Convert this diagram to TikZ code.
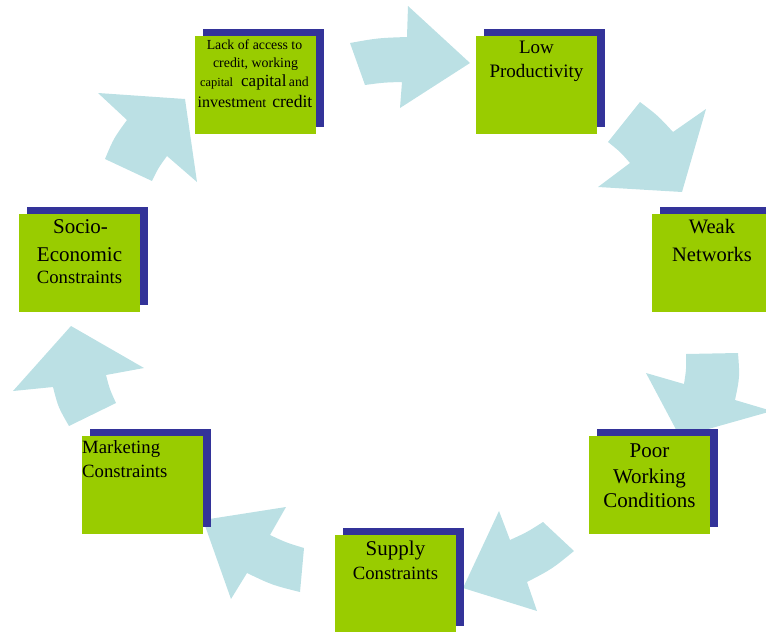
\documentclass[tikz,border=0pt]{standalone}
\usepackage{fontspec}
\setmainfont{Liberation Serif}
\usetikzlibrary{shadows}
\definecolor{boxgreen}{RGB}{153,204,0}
\definecolor{shadowblue}{RGB}{51,51,153}
\definecolor{arrowblue}{RGB}{187,224,228}
\newcommand{\fs}[1]{\fontsize{#1}{#1}\selectfont}
\begin{document}
\begin{tikzpicture}[x=1pt,y=-1pt,
  box/.style={rectangle, fill=boxgreen, minimum width=121pt, minimum height=98pt,
    inner sep=0pt, anchor=north west,
    general shadow={fill=shadowblue, shadow xshift=8pt, shadow yshift=7pt}},
  lbl/.style={anchor=base, inner sep=0pt, text=black},
  lblw/.style={anchor=base west, inner sep=0pt, text=black},
  cyc/.style={fill=arrowblue, draw=none}]
\useasboundingbox (0,0) rectangle (766,632);

% ---- curved block arrows ----
\fill[cyc] (350,43) .. controls (378,38) .. (407,37) -- (408,6) -- (470,63)
  -- (400,108) -- (402,82) .. controls (383.5,82.5) .. (365,85) -- cycle;
\fill[cyc] (640,102) .. controls (658.1,115.8) .. (673,132) -- (706,109) -- (682,192)
  -- (598,187) -- (630,163) .. controls (620.1,151.7) .. (608,142) -- cycle;
\fill[cyc] (686,354) -- (738,353) .. controls (739.8,377) .. (735,400) -- (772,411)
  -- (680,437) -- (646,373) -- (684,384) .. controls (686.3,369.2) .. (686,354) -- cycle;
\fill[cyc] (463,588) -- (499,511) -- (510,540) .. controls (527.2,532.1) .. (543,522)
  -- (574,551) .. controls (552,569) .. (527,582) -- (537,611) -- cycle;
\fill[cyc] (203,520) -- (286,507) -- (270,535) .. controls (286.4,542.7) .. (304,548)
  -- (300,592) .. controls (272.3,585.1) .. (247,573) -- (231,599) -- cycle;
\fill[cyc] (71,326) -- (144,368) -- (106,375) .. controls (109.7,389.3) .. (116,403)
  -- (69,426) .. controls (58.2,407.2) .. (53,387) -- (13,391) -- cycle;
\fill[cyc] (185,99) -- (197,182) -- (167,156) .. controls (158.4,167.8) .. (152,181)
  -- (105,159) .. controls (113.8,138.1) .. (127,120) -- (98,93) -- cycle;

% ---- boxes ----
\node[box] (b1) at (195,36) {};
\node[box] (b2) at (476,36) {};
\node[box] (b3) at (652,214) {};
\node[box] (b4) at (589,436) {};
\node[box] (b5) at (335,535) {};
\node[box] (b6) at (82,436) {};
\node[box] (b7) at (19,214) {};

% ---- texts ----
\node[lbl] (t1a) at (254.5,49) {\fs{13.8}Lack of access to};
\node[lbl] (t1b) at (255.5,67) {\fs{13.9}credit, working};
\node[lbl] (t1c) at (254.5,86) {{\fs{12.4}capital}\hspace{8pt}{\fs{17}capital}\hspace{2.5pt}{\fs{13.8}and}};
\node[lbl] (t1d) at (255,107) {{\fs{16}investme}{\fs{14}nt}\hspace{6pt}{\fs{17.6}credit}};

\node[lbl] (t2a) at (536.5,53) {\fs{19}Low};
\node[lbl] (t2b) at (536.5,77) {\fs{19}Productivity};

\node[lbl] (t3a) at (712,233) {\fs{20.5}Weak};
\node[lbl] (t3b) at (712,261) {\fs{20.5}Networks};

\node[lbl] (t4a) at (649.5,457) {\fs{21}Poor};
\node[lbl] (t4b) at (649.5,483) {\fs{21}Working};
\node[lbl] (t4c) at (649.5,507) {\fs{21}Conditions};

\node[lbl] (t5a) at (395.5,555) {\fs{21}Supply};
\node[lbl] (t5b) at (395.5,579) {\fs{18.7}Constraints};

\node[lblw] (t6a) at (82,453) {\fs{18.7}Marketing};
\node[lblw] (t6b) at (82,477) {\fs{18.7}Constraints};

\node[lbl] (t7a) at (80.5,233) {\fs{21}Socio-};
\node[lbl] (t7b) at (79.5,261) {\fs{21}Economic};
\node[lbl] (t7c) at (79.5,283) {\fs{18.7}Constraints};
\end{tikzpicture}
\end{document}
